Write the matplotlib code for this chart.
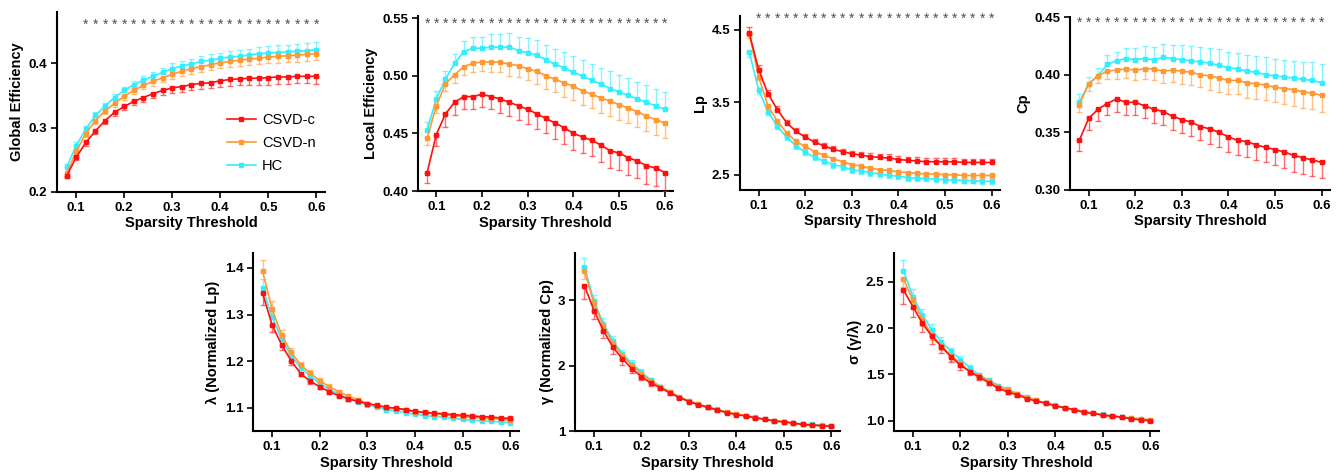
import numpy as np
import matplotlib
matplotlib.use("Agg")
import matplotlib.pyplot as plt
from matplotlib.colors import to_rgba
from matplotlib.lines import Line2D

plt.rcParams['font.family'] = ['Liberation Sans', 'DejaVu Sans']
plt.rcParams['font.weight'] = 'bold'

# sparsity thresholds 0.08 .. 0.60
thresholds = [0.08, 0.10, 0.12, 0.14, 0.16, 0.18, 0.20, 0.22, 0.24, 0.26, 0.28, 0.30, 0.32, 0.34,
              0.36, 0.38, 0.40, 0.42, 0.44, 0.46, 0.48, 0.50, 0.52, 0.54, 0.56, 0.58, 0.60]
groups = ['CSVD-c', 'CSVD-n', 'HC']
colors = {'CSVD-c': '#FF0F0F', 'CSVD-n': '#FF9933', 'HC': '#33EEFF'}

# ---- Global efficiency
ge_c = [0.225, 0.254, 0.277, 0.295, 0.311, 0.324, 0.333, 0.341, 0.347, 0.353, 0.358, 0.362, 0.364, 0.367,
        0.369, 0.370, 0.373, 0.375, 0.376, 0.377, 0.377, 0.378, 0.379, 0.379, 0.380, 0.380, 0.380]
ge_n = [0.229, 0.263, 0.291, 0.311, 0.326, 0.338, 0.349, 0.358, 0.366, 0.372, 0.378, 0.383, 0.388, 0.392,
        0.395, 0.398, 0.401, 0.403, 0.405, 0.407, 0.408, 0.410, 0.411, 0.412, 0.413, 0.414, 0.415]
ge_h = [0.239, 0.272, 0.298, 0.319, 0.334, 0.347, 0.358, 0.367, 0.374, 0.380, 0.386, 0.392, 0.396, 0.399,
        0.403, 0.405, 0.408, 0.410, 0.411, 0.413, 0.415, 0.416, 0.417, 0.418, 0.419, 0.420, 0.421]
ge_c_err = [0.004, 0.005, 0.005, 0.005, 0.005, 0.006, 0.006, 0.006, 0.007, 0.007, 0.007, 0.008, 0.008, 0.008,
            0.009, 0.009, 0.009, 0.010, 0.010, 0.010, 0.010, 0.011, 0.011, 0.011, 0.011, 0.011, 0.012]
ge_n_err = [0.004, 0.005, 0.005, 0.005, 0.005, 0.006, 0.006, 0.006, 0.006, 0.007, 0.007, 0.007, 0.007, 0.008,
            0.008, 0.008, 0.008, 0.009, 0.009, 0.009, 0.009, 0.010, 0.010, 0.010, 0.010, 0.010, 0.010]
ge_h_err = [0.004, 0.005, 0.005, 0.005, 0.005, 0.006, 0.006, 0.006, 0.007, 0.007, 0.007, 0.008, 0.008, 0.008,
            0.009, 0.009, 0.009, 0.010, 0.010, 0.010, 0.011, 0.011, 0.011, 0.011, 0.012, 0.012, 0.012]

# ---- Local efficiency
le_c = [0.416, 0.449, 0.467, 0.477, 0.482, 0.482, 0.484, 0.482, 0.480, 0.477, 0.474, 0.471, 0.467, 0.463,
        0.459, 0.455, 0.450, 0.447, 0.444, 0.440, 0.435, 0.433, 0.429, 0.426, 0.422, 0.420, 0.416]
le_n = [0.446, 0.474, 0.493, 0.501, 0.508, 0.511, 0.512, 0.512, 0.512, 0.510, 0.509, 0.506, 0.504, 0.500,
        0.497, 0.494, 0.491, 0.487, 0.484, 0.481, 0.478, 0.475, 0.472, 0.469, 0.465, 0.462, 0.459]
le_h = [0.453, 0.480, 0.497, 0.511, 0.521, 0.524, 0.524, 0.525, 0.525, 0.525, 0.522, 0.520, 0.518, 0.514,
        0.510, 0.507, 0.503, 0.500, 0.496, 0.493, 0.489, 0.486, 0.483, 0.480, 0.477, 0.474, 0.471]
le_c_err = [0.009, 0.010, 0.011, 0.011, 0.011, 0.011, 0.011, 0.011, 0.012, 0.012, 0.012, 0.013, 0.013, 0.013,
            0.014, 0.014, 0.014, 0.014, 0.014, 0.015, 0.015, 0.015, 0.015, 0.015, 0.016, 0.016, 0.016]
le_n_err = [0.006, 0.006, 0.006, 0.007, 0.007, 0.008, 0.008, 0.009, 0.009, 0.010, 0.010, 0.010, 0.011, 0.011,
            0.011, 0.012, 0.012, 0.012, 0.012, 0.013, 0.013, 0.013, 0.013, 0.013, 0.013, 0.013, 0.013]
le_h_err = [0.007, 0.007, 0.007, 0.008, 0.009, 0.010, 0.010, 0.011, 0.011, 0.012, 0.012, 0.013, 0.013, 0.013,
            0.013, 0.014, 0.014, 0.014, 0.014, 0.014, 0.015, 0.015, 0.015, 0.015, 0.015, 0.015, 0.015]

# ---- Lp
lp_c = [4.45, 3.95, 3.62, 3.40, 3.22, 3.10, 3.02, 2.95, 2.90, 2.85, 2.82, 2.79, 2.77, 2.75,
        2.74, 2.73, 2.71, 2.70, 2.69, 2.68, 2.68, 2.68, 2.68, 2.67, 2.67, 2.67, 2.67]
lp_n = [4.44, 3.85, 3.45, 3.24, 3.08, 2.96, 2.89, 2.82, 2.77, 2.72, 2.68, 2.64, 2.62, 2.59,
        2.57, 2.56, 2.54, 2.53, 2.52, 2.51, 2.51, 2.50, 2.50, 2.49, 2.49, 2.49, 2.49]
lp_h = [4.19, 3.67, 3.37, 3.17, 3.02, 2.90, 2.81, 2.74, 2.69, 2.64, 2.61, 2.57, 2.55, 2.53,
        2.51, 2.49, 2.48, 2.46, 2.45, 2.45, 2.44, 2.43, 2.43, 2.42, 2.42, 2.41, 2.41]
lp_c_err = [0.09, 0.06, 0.05, 0.05, 0.04, 0.04, 0.04, 0.04, 0.04, 0.04, 0.04, 0.04, 0.05, 0.05,
            0.05, 0.05, 0.05, 0.05, 0.05, 0.05, 0.05, 0.05, 0.05, 0.05, 0.05, 0.05, 0.05]
lp_n_err = [0.06, 0.04, 0.04, 0.03, 0.03, 0.03, 0.03, 0.03, 0.03, 0.03, 0.03, 0.03, 0.03, 0.03,
            0.03, 0.03, 0.03, 0.03, 0.03, 0.03, 0.03, 0.03, 0.03, 0.03, 0.03, 0.03, 0.03]
lp_h_err = [0.06, 0.05, 0.04, 0.04, 0.04, 0.04, 0.04, 0.04, 0.04, 0.04, 0.04, 0.04, 0.04, 0.04,
            0.04, 0.04, 0.04, 0.04, 0.04, 0.04, 0.04, 0.04, 0.04, 0.04, 0.04, 0.04, 0.04]

# ---- Cp
cp_c = [0.343, 0.362, 0.370, 0.375, 0.379, 0.376, 0.376, 0.373, 0.370, 0.368, 0.364, 0.361, 0.359, 0.355,
        0.353, 0.350, 0.346, 0.343, 0.342, 0.339, 0.337, 0.335, 0.333, 0.330, 0.328, 0.326, 0.324]
cp_n = [0.374, 0.392, 0.399, 0.403, 0.404, 0.405, 0.404, 0.405, 0.405, 0.403, 0.404, 0.403, 0.402, 0.400,
        0.399, 0.397, 0.395, 0.395, 0.393, 0.392, 0.391, 0.389, 0.388, 0.387, 0.385, 0.384, 0.382]
cp_h = [0.376, 0.392, 0.399, 0.409, 0.412, 0.414, 0.413, 0.414, 0.413, 0.415, 0.414, 0.413, 0.412, 0.411,
        0.410, 0.408, 0.406, 0.405, 0.403, 0.402, 0.400, 0.399, 0.398, 0.397, 0.396, 0.395, 0.393]
cp_c_err = [0.009, 0.010, 0.010, 0.010, 0.011, 0.011, 0.011, 0.011, 0.012, 0.012, 0.012, 0.012, 0.012, 0.012,
            0.013, 0.013, 0.013, 0.013, 0.013, 0.013, 0.013, 0.013, 0.014, 0.014, 0.014, 0.014, 0.014]
cp_n_err = [0.006, 0.006, 0.006, 0.007, 0.008, 0.008, 0.009, 0.009, 0.010, 0.010, 0.010, 0.011, 0.011, 0.011,
            0.012, 0.012, 0.012, 0.012, 0.013, 0.013, 0.013, 0.013, 0.013, 0.014, 0.014, 0.014, 0.014]
cp_h_err = [0.007, 0.006, 0.007, 0.008, 0.008, 0.009, 0.010, 0.011, 0.011, 0.012, 0.012, 0.013, 0.013, 0.013,
            0.013, 0.014, 0.014, 0.014, 0.014, 0.014, 0.015, 0.015, 0.015, 0.015, 0.015, 0.016, 0.016]

# ---- lambda (normalized Lp)
lam_c = [1.346, 1.278, 1.235, 1.201, 1.173, 1.157, 1.145, 1.134, 1.126, 1.119, 1.114, 1.109, 1.105, 1.101,
         1.099, 1.096, 1.092, 1.090, 1.088, 1.087, 1.085, 1.084, 1.082, 1.081, 1.080, 1.078, 1.077]
lam_n = [1.393, 1.312, 1.256, 1.219, 1.192, 1.174, 1.158, 1.145, 1.134, 1.125, 1.117, 1.109, 1.104, 1.101,
         1.098, 1.095, 1.091, 1.089, 1.087, 1.085, 1.083, 1.081, 1.079, 1.078, 1.076, 1.075, 1.073]
lam_h = [1.357, 1.295, 1.247, 1.211, 1.186, 1.168, 1.152, 1.139, 1.129, 1.119, 1.112, 1.106, 1.101, 1.096,
         1.093, 1.089, 1.086, 1.083, 1.081, 1.079, 1.077, 1.075, 1.073, 1.072, 1.071, 1.069, 1.068]
lam_c_err = [0.025, 0.016, 0.012, 0.009, 0.006, 0.006, 0.005, 0.005, 0.004, 0.004, 0.003, 0.003, 0.003, 0.003,
             0.003, 0.003, 0.003, 0.003, 0.003, 0.003, 0.003, 0.003, 0.003, 0.003, 0.003, 0.003, 0.003]
lam_n_err = [0.025, 0.018, 0.010, 0.009, 0.006, 0.006, 0.005, 0.005, 0.004, 0.004, 0.004, 0.003, 0.003, 0.003,
             0.003, 0.003, 0.003, 0.003, 0.003, 0.003, 0.003, 0.003, 0.003, 0.003, 0.003, 0.003, 0.003]
lam_h_err = [0.020, 0.012, 0.008, 0.007, 0.006, 0.005, 0.005, 0.004, 0.004, 0.004, 0.003, 0.003, 0.003, 0.003,
             0.003, 0.003, 0.003, 0.003, 0.003, 0.003, 0.003, 0.003, 0.003, 0.003, 0.003, 0.003, 0.003]

# ---- gamma (normalized Cp)
gam_c = [3.22, 2.84, 2.53, 2.28, 2.10, 1.95, 1.83, 1.73, 1.66, 1.58, 1.51, 1.45, 1.40, 1.36,
         1.32, 1.28, 1.25, 1.23, 1.20, 1.18, 1.15, 1.14, 1.12, 1.10, 1.09, 1.08, 1.07]
gam_n = [3.45, 2.95, 2.60, 2.34, 2.15, 2.00, 1.87, 1.76, 1.67, 1.59, 1.52, 1.46, 1.41, 1.36,
         1.32, 1.29, 1.26, 1.23, 1.20, 1.18, 1.16, 1.14, 1.12, 1.10, 1.09, 1.08, 1.07]
gam_h = [3.51, 2.98, 2.64, 2.38, 2.18, 2.03, 1.90, 1.78, 1.68, 1.60, 1.52, 1.46, 1.41, 1.37,
         1.33, 1.29, 1.26, 1.23, 1.21, 1.18, 1.16, 1.14, 1.12, 1.11, 1.10, 1.09, 1.08]
gam_c_err = [0.20, 0.13, 0.11, 0.10, 0.09, 0.07, 0.05, 0.04, 0.03, 0.03, 0.02, 0.02, 0.02, 0.02,
             0.01, 0.01, 0.01, 0.01, 0.01, 0.01, 0.01, 0.01, 0.01, 0.01, 0.01, 0.01, 0.01]
gam_n_err = [0.12, 0.09, 0.08, 0.07, 0.06, 0.05, 0.04, 0.03, 0.03, 0.02, 0.02, 0.02, 0.02, 0.01,
             0.01, 0.01, 0.01, 0.01, 0.01, 0.01, 0.01, 0.01, 0.01, 0.01, 0.01, 0.01, 0.01]
gam_h_err = [0.14, 0.10, 0.09, 0.07, 0.06, 0.05, 0.04, 0.03, 0.03, 0.02, 0.02, 0.02, 0.02, 0.01,
             0.01, 0.01, 0.01, 0.01, 0.01, 0.01, 0.01, 0.01, 0.01, 0.01, 0.01, 0.01, 0.01]

# ---- sigma (gamma/lambda)
sig_c = [2.41, 2.23, 2.05, 1.91, 1.80, 1.69, 1.60, 1.53, 1.47, 1.41, 1.35, 1.31, 1.28, 1.24,
         1.21, 1.19, 1.16, 1.14, 1.12, 1.09, 1.08, 1.06, 1.05, 1.04, 1.02, 1.01, 1.00]
sig_n = [2.53, 2.30, 2.09, 1.93, 1.81, 1.70, 1.62, 1.53, 1.48, 1.43, 1.37, 1.33, 1.29, 1.25,
         1.22, 1.19, 1.16, 1.14, 1.12, 1.10, 1.08, 1.06, 1.05, 1.04, 1.03, 1.02, 1.01]
sig_h = [2.62, 2.34, 2.14, 1.98, 1.85, 1.75, 1.66, 1.57, 1.49, 1.44, 1.38, 1.34, 1.29, 1.26,
         1.22, 1.19, 1.17, 1.14, 1.12, 1.10, 1.08, 1.07, 1.05, 1.04, 1.03, 1.02, 1.01]
sig_c_err = [0.15, 0.11, 0.09, 0.08, 0.07, 0.06, 0.05, 0.04, 0.03, 0.02, 0.02, 0.02, 0.02, 0.01,
             0.01, 0.01, 0.01, 0.01, 0.01, 0.01, 0.01, 0.01, 0.01, 0.01, 0.01, 0.01, 0.01]
sig_n_err = [0.09, 0.08, 0.07, 0.06, 0.05, 0.05, 0.04, 0.03, 0.03, 0.02, 0.02, 0.02, 0.02, 0.01,
             0.01, 0.01, 0.01, 0.01, 0.01, 0.01, 0.01, 0.01, 0.01, 0.01, 0.01, 0.01, 0.01]
sig_h_err = [0.11, 0.08, 0.07, 0.06, 0.05, 0.04, 0.04, 0.03, 0.03, 0.02, 0.02, 0.02, 0.02, 0.02,
             0.01, 0.01, 0.01, 0.01, 0.01, 0.01, 0.01, 0.01, 0.01, 0.01, 0.01, 0.01, 0.01]

# thresholds with significant group differences (asterisks)
stars_ge = thresholds[2:]
stars_le = thresholds[:]
stars_lp = thresholds[1:]
stars_cp = thresholds[:]

W, H = 1341, 475

# panel boxes in pixels: left, right, top, bottom
panels = [
    dict(box=(57, 325, 12, 192), data=(ge_c, ge_n, ge_h), err=(ge_c_err, ge_n_err, ge_h_err),
         dirs=('down', 'down', 'up'), ylabel='Global Efficiency', ylim=(0.2, 0.48),
         yticks=[0.2, 0.3, 0.4], ytl=['0.2', '0.3', '0.4'], stars=stars_ge, stary=0.46),
    dict(box=(418, 673, 16, 191), data=(le_c, le_n, le_h), err=(le_c_err, le_n_err, le_h_err),
         dirs=('down', 'down', 'up'), ylabel='Local Efficiency', ylim=(0.40, 0.552),
         yticks=[0.40, 0.45, 0.50, 0.55], ytl=['0.40', '0.45', '0.50', '0.55'], stars=stars_le, stary=0.545),
    dict(box=(740, 1000, 16, 190), data=(lp_c, lp_n, lp_h), err=(lp_c_err, lp_n_err, lp_h_err),
         dirs=('up', 'down', 'down'), ylabel='Lp', ylim=(2.29, 4.69),
         yticks=[2.5, 3.5, 4.5], ytl=['2.5', '3.5', '4.5'], stars=stars_lp, stary=4.65),
    dict(box=(1070, 1330, 17, 190), data=(cp_c, cp_n, cp_h), err=(cp_c_err, cp_n_err, cp_h_err),
         dirs=('down', 'down', 'up'), ylabel='Cp', ylim=(0.30, 0.45),
         yticks=[0.30, 0.35, 0.40, 0.45], ytl=['0.30', '0.35', '0.40', '0.45'], stars=stars_cp, stary=0.445),
    dict(box=(253, 519, 253, 431), data=(lam_c, lam_n, lam_h), err=(lam_c_err, lam_n_err, lam_h_err),
         dirs=('down', 'up', 'up'), ylabel='λ (Normalized Lp)', ylim=(1.05, 1.432),
         yticks=[1.1, 1.2, 1.3, 1.4], ytl=['1.1', '1.2', '1.3', '1.4'], stars=None, stary=None),
    dict(box=(575, 840, 253, 431), data=(gam_c, gam_n, gam_h), err=(gam_c_err, gam_n_err, gam_h_err),
         dirs=('down', 'down', 'up'), ylabel='γ (Normalized Cp)', ylim=(1.0, 3.72),
         yticks=[1, 2, 3], ytl=['1', '2', '3'], stars=None, stary=None),
    dict(box=(894, 1159, 253, 431), data=(sig_c, sig_n, sig_h), err=(sig_c_err, sig_n_err, sig_h_err),
         dirs=('down', 'down', 'up'), ylabel='σ (γ/λ)', ylim=(0.89, 2.81),
         yticks=[1.0, 1.5, 2.0, 2.5], ytl=['1.0', '1.5', '2.0', '2.5'], stars=None, stary=None),
]

fig = plt.figure(figsize=(W / 100, H / 100), dpi=100)
x = np.array(thresholds)
xt = [0.1, 0.2, 0.3, 0.4, 0.5, 0.6]

for i, p in enumerate(panels):
    l, r, t, b = p['box']
    ax = fig.add_axes([l / W, 1 - b / H, (r - l) / W, (b - t) / H])
    # draw HC first so CSVD-c ends on top
    for k in (2, 1, 0):
        g = groups[k]
        y = np.array(p['data'][k])
        e = np.array(p['err'][k])
        z = np.zeros_like(e)
        yerr = [e, z] if p['dirs'][k] == 'down' else [z, e]
        ax.errorbar(x, y, yerr=yerr, fmt='-s', color=colors[g], ms=2.6, lw=1.2,
                    ecolor=to_rgba(colors[g], 0.6), elinewidth=1.0, capsize=2.0, capthick=1.0,
                    zorder=3 - k)
    if p['stars'] is not None:
        for s in p['stars']:
            ax.text(s, p['stary'], '*', ha='center', va='center', fontsize=10, color='#505050',
                    fontweight='normal')
    ax.set_xlim(0.06, 0.618)
    ax.set_ylim(*p['ylim'])
    ax.set_xticks(xt)
    ax.set_xticklabels([f'{v:.1f}' for v in xt])
    ax.set_yticks(p['yticks'])
    ax.set_yticklabels(p['ytl'])
    for sp in ('top', 'right'):
        ax.spines[sp].set_visible(False)
    for sp in ('left', 'bottom'):
        ax.spines[sp].set_linewidth(1.5)
    ax.tick_params(direction='out', length=4, width=1.2, labelsize=9.5, pad=3)
    for lab in ax.get_xticklabels() + ax.get_yticklabels():
        lab.set_fontweight('bold')
    ax.set_xlabel('Sparsity Threshold', fontsize=10.5, fontweight='bold', labelpad=2)
    ax.set_ylabel(p['ylabel'], fontsize=10.5, fontweight='bold', labelpad=3)
    if i == 0:
        handles = [Line2D([], [], color=colors[g], marker='s', ms=2.6, lw=1.2) for g in groups]
        ax.legend(handles, groups, loc='upper left', bbox_to_anchor=(0.585, 0.51), frameon=False,
                  prop={'weight': 'normal', 'size': 10.5}, handlelength=2.0, labelspacing=0.6,
                  handletextpad=0.4)

fig.savefig('out.png', dpi=100)
